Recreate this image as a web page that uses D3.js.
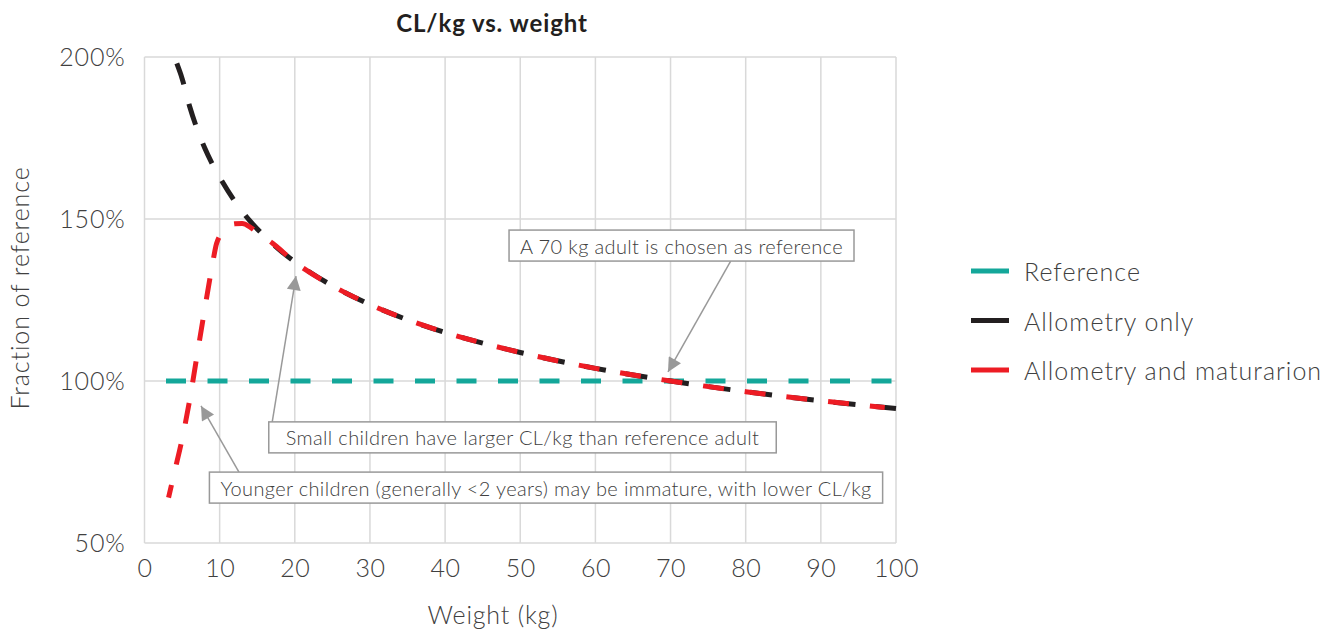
<!DOCTYPE html>
<html>
<head>
<meta charset="utf-8">
<script src="https://cdn.jsdelivr.net/npm/d3@7"></script>
<style>
  html, body { margin: 0; padding: 0; background: #fff; }
  svg { display: block; font-family: Lato, "Open Sans", sans-serif; }
</style>
</head>
<body>
<svg id="chart" width="1328" height="630"></svg>
<script>
// ---- data ----
const xTicks = [0, 10, 20, 30, 40, 50, 60, 70, 80, 90, 100];
const yTicks = [50, 100, 150, 200];
const seriesNames = ["Reference", "Allometry only", "Allometry and maturarion"];
const seriesColors = ["#14a79a", "#231f20", "#ed1c24"];

const referenceWeights = [0, 100];
const referenceValues = [100, 100];

const allometryWeights = [4.3, 5, 6, 7, 8, 9, 10, 12, 14, 16, 18, 20, 25, 30, 35, 40, 45, 50, 60, 70, 80, 90, 100];
const allometryValues = [198, 193.4, 184.8, 177.8, 172.0, 167.1, 162.9, 155.5, 149.5, 144.6, 140.4, 136.8, 129.4, 123.6, 118.9, 115.0, 111.7, 108.8, 103.9, 100.0, 96.7, 93.9, 91.5];

const maturationWeights = [3.2, 4, 5, 6, 7, 8, 9, 9.6, 10.7, 12, 13, 14, 15, 17, 20, 25, 30, 35, 40, 45, 50, 60, 70, 80, 90, 98.5];
const maturationValues = [64, 72, 82, 94, 108, 122, 135.5, 142.5, 146.6, 148.5, 148.6, 147.6, 145.8, 142.6, 136.7, 129.4, 123.6, 118.9, 115.0, 111.7, 108.8, 103.9, 100.0, 96.7, 93.9, 91.8];

// annotations: text, box centre (weight, %), arrow start, arrow tip
const annotationTexts = [
  "A 70 kg adult is chosen as reference",
  "Small children have larger CL/kg than reference adult",
  "Younger children (generally <2 years) may be immature, with lower CL/kg"
];
const annotationCenters = [[71.46, 141.8], [50.3, 82.6], [53.43, 67.1]];
const annotationFrom = [[78.0, 137.0], [16.97, 87.0], [12.57, 71.9]];
const annotationTo = [[69.66, 102.8], [20.16, 132.4], [7.52, 92.3]];

// ---- layout ----
const svg = d3.select("#chart");
const x = d3.scaleLinear().domain([0, 100]).range([144.5, 896]);
const y = d3.scaleLinear().domain([50, 200]).range([543, 57]);
const textColor = "#404040";
const gridColor = "#d9d9d9";

// gridlines
const g = svg.append("g");
g.selectAll(".vg").data(xTicks).join("line")
  .attr("x1", d => x(d)).attr("x2", d => x(d))
  .attr("y1", y(200)).attr("y2", y(50))
  .attr("stroke", gridColor).attr("stroke-width", 1.5);
g.selectAll(".hg").data(yTicks).join("line")
  .attr("x1", x(0)).attr("x2", x(100))
  .attr("y1", d => y(d)).attr("y2", d => y(d))
  .attr("stroke", gridColor).attr("stroke-width", 1.5);

// axes (labels only)
const xAxis = svg.append("g").attr("transform", `translate(0,${y(50)})`)
  .call(d3.axisBottom(x).tickValues(xTicks).tickSize(0).tickPadding(16).tickFormat(d3.format("d")));
xAxis.select(".domain").remove();
xAxis.selectAll("text").attr("fill", textColor).style("font-size", "25px").style("font-weight", 300)
  .style("font-family", "Lato, sans-serif").style("letter-spacing", "0.5px");

const yAxis = svg.append("g").attr("transform", `translate(${x(0)},0)`)
  .call(d3.axisLeft(y).tickValues(yTicks).tickSize(0).tickPadding(19).tickFormat(d => d + "%"));
yAxis.select(".domain").remove();
yAxis.selectAll("text").attr("fill", textColor).style("font-size", "25px").style("font-weight", 300)
  .style("font-family", "Lato, sans-serif").style("letter-spacing", "0.8px");

// titles
svg.append("text").attr("x", 492).attr("y", 32).attr("text-anchor", "middle")
  .attr("fill", "#231f20").style("font-size", "24px").style("font-weight", 700)
  .style("letter-spacing", "0.9px")
  .text("CL/kg vs. weight");
svg.append("text").attr("x", 493).attr("y", 624).attr("text-anchor", "middle")
  .attr("fill", textColor).style("font-size", "25px").style("font-weight", 300)
  .style("letter-spacing", "0.8px")
  .text("Weight (kg)");
svg.append("text").attr("transform", `translate(29,${288}) rotate(-90)`).attr("text-anchor", "middle")
  .attr("fill", textColor).style("font-size", "25px").style("font-weight", 300)
  .style("letter-spacing", "0.9px")
  .text("Fraction of reference");

// lines
const line = d3.line().x(d => x(d[0])).y(d => y(d[1])).curve(d3.curveMonotoneX);
const series = [
  d3.zip(referenceWeights, referenceValues),
  d3.zip(allometryWeights, allometryValues),
  d3.zip(maturationWeights, maturationValues)
];
svg.append("path").datum(series[0]).attr("d", line).attr("fill", "none")
  .attr("stroke", seriesColors[0]).attr("stroke-width", 5)
  .attr("stroke-dasharray", "20,21.5").attr("stroke-dashoffset", 20);
svg.append("path").datum(series[1]).attr("d", line).attr("fill", "none")
  .attr("stroke", seriesColors[1]).attr("stroke-width", 5)
  .attr("stroke-dasharray", "22,20");
svg.append("path").datum(series[2]).attr("d", line).attr("fill", "none")
  .attr("stroke", seriesColors[2]).attr("stroke-width", 5)
  .attr("stroke-dasharray", "21,21").attr("stroke-dashoffset", 8);

// annotations
const defs = svg.append("defs");
defs.append("marker").attr("id", "arr").attr("viewBox", "0 0 10 10")
  .attr("refX", 10).attr("refY", 5).attr("markerWidth", 18).attr("markerHeight", 14)
  .attr("markerUnits", "userSpaceOnUse").attr("orient", "auto")
  .append("path").attr("d", "M0,0 L10,5 L0,10 Z").attr("fill", "#999");

const pads = [11, 17, 11];
const ann = svg.append("g");
annotationTexts.forEach((t, i) => {
  ann.append("line")
    .attr("x1", x(annotationFrom[i][0])).attr("y1", y(annotationFrom[i][1]))
    .attr("x2", x(annotationTo[i][0])).attr("y2", y(annotationTo[i][1]))
    .attr("stroke", "#999").attr("stroke-width", 1.5).attr("marker-end", "url(#arr)");
});
annotationTexts.forEach((t, i) => {
  const cx = x(annotationCenters[i][0]), cy = y(annotationCenters[i][1]);
  const grp = ann.append("g");
  const rect = grp.append("rect").attr("fill", "#fff").attr("stroke", "#999").attr("stroke-width", 1.5);
  const txt = grp.append("text").attr("x", cx).attr("y", cy).attr("text-anchor", "middle")
    .attr("dominant-baseline", "central").attr("fill", textColor)
    .style("font-size", "20px").style("font-weight", 300).style("letter-spacing", "0.35px").text(t);
  const bb = txt.node().getBBox();
  rect.attr("x", bb.x - pads[i]).attr("y", cy - 15.5).attr("width", bb.width + 2 * pads[i]).attr("height", 31);
});

// legend
const leg = svg.append("g");
seriesNames.forEach((n, i) => {
  const ly = 271 + i * 49.5;
  leg.append("line").attr("x1", 971).attr("x2", 1009).attr("y1", ly).attr("y2", ly)
    .attr("stroke", seriesColors[i]).attr("stroke-width", 5);
  leg.append("text").attr("x", 1024).attr("y", ly).attr("dominant-baseline", "central")
    .attr("fill", textColor).style("font-size", "25px").style("font-weight", 300)
    .style("letter-spacing", "1px").text(n);
});
</script>
</body>
</html>
